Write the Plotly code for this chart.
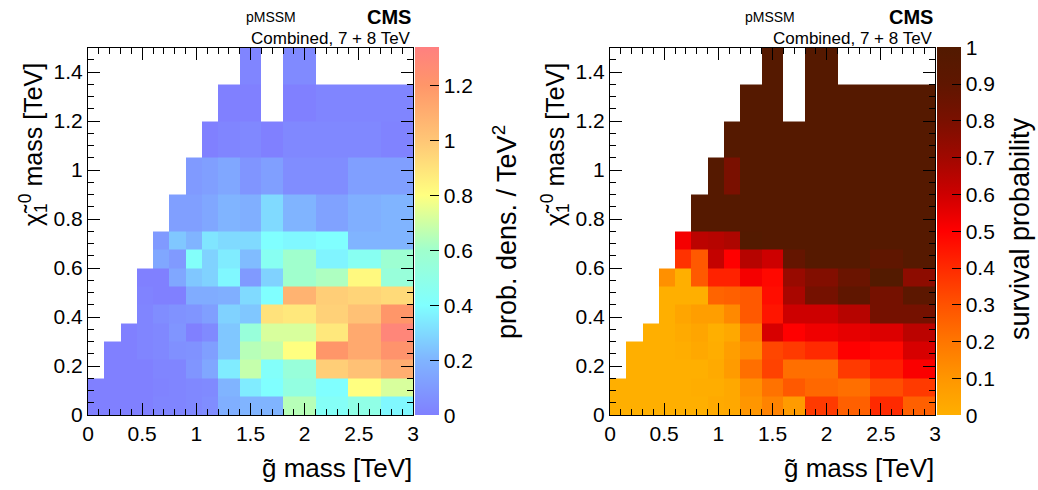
import plotly.graph_objects as go

W, H = 1038, 490

# ---------------- data ----------------
# bin edges (TeV)
gluino_edges = [0, 0.15, 0.3, 0.45, 0.6, 0.75, 0.9, 1.05, 1.2, 1.4, 1.6, 1.8, 2.1, 2.4, 2.7, 3.0]
lsp_edges = [0, 0.075, 0.15, 0.225, 0.3, 0.375, 0.45, 0.525, 0.6, 0.675, 0.75, 0.9, 1.05, 1.2, 1.35, 1.5]

N = None
# probability density / TeV^2 (rows: LSP bins bottom->top, cols: gluino bins)
prob_density = [
    [0.0, 0.0, 0.0, 0.0, 0.02, 0.02, 0.03, 0.05, 0.18, 0.2, 0.2, 0.65, 0.43, 0.5, 0.38],
    [0.0, 0.0, 0.0, 0.0, 0.01, 0.02, 0.03, 0.04, 0.2, 0.35, 0.4, 0.52, 0.4, 0.8, 0.72],
    [N, 0.0, 0.0, 0.0, 0.02, 0.02, 0.08, 0.15, 0.35, 0.68, 0.42, 0.55, 0.97, 1.02, 1.1],
    [N, 0.0, 0.0, 0.02, 0.03, 0.06, 0.07, 0.12, 0.25, 0.65, 0.68, 0.8, 1.2, 1.12, 1.22],
    [N, N, 0.0, 0.02, 0.03, 0.08, 0.0, 0.04, 0.25, 0.55, 0.72, 0.72, 0.88, 1.12, 1.3],
    [N, N, N, 0.02, 0.05, 0.07, 0.08, 0.12, 0.28, 0.25, 0.9, 0.88, 0.96, 1.02, 1.2],
    [N, N, N, 0.01, 0.0, 0.0, 0.17, 0.17, 0.18, 0.3, 0.4, 1.08, 0.97, 0.95, 0.93],
    [N, N, N, 0.0, 0.0, 0.15, 0.25, 0.28, 0.38, 0.1, 0.28, 0.6, 0.63, 0.82, 0.55],
    [N, N, N, N, 0.15, 0.1, 0.42, 0.28, 0.35, 0.22, 0.45, 0.6, 0.37, 0.45, 0.58],
    [N, N, N, N, 0.1, 0.25, 0.2, 0.33, 0.3, 0.3, 0.4, 0.38, 0.4, 0.2, 0.2],
    [N, N, N, N, N, 0.12, 0.12, 0.15, 0.2, 0.18, 0.3, 0.2, 0.13, 0.18, 0.2],
    [N, N, N, N, N, N, 0.1, 0.12, 0.15, 0.08, 0.12, 0.05, 0.05, 0.12, 0.12],
    [N, N, N, N, N, N, N, 0.0, 0.02, 0.03, 0.0, 0.03, 0.03, 0.03, 0.01],
    [N, N, N, N, N, N, N, N, 0.0, 0.0, N, 0.0, 0.02, 0.02, 0.02],
    [N, N, N, N, N, N, N, N, N, 0.02, N, 0.04, N, N, N],
]

survival_prob = [
    [0, 0, 0, 0, 0, 0, 0.02, 0.03, 0.1, 0.16, 0.08, 0.36, 0.26, 0.4, 0.26],
    [0, 0, 0, 0, 0, 0.01, 0.01, 0.03, 0.12, 0.21, 0.28, 0.24, 0.22, 0.31, 0.36],
    [N, 0, 0, 0, 0, 0, 0.02, 0.08, 0.22, 0.34, 0.22, 0.22, 0.36, 0.43, 0.51],
    [N, 0, 0, 0, 0.01, 0.03, 0.01, 0.07, 0.13, 0.33, 0.36, 0.4, 0.5, 0.48, 0.58],
    [N, N, 0, 0, 0.02, 0.04, 0.0, 0.03, 0.18, 0.58, 0.5, 0.53, 0.55, 0.57, 0.64],
    [N, N, N, 0, 0.04, 0.07, 0.07, 0.14, 0.28, 0.45, 0.6, 0.6, 0.65, 0.82, 0.82],
    [N, N, N, 0, 0, 0, 0.25, 0.26, 0.28, 0.47, 0.68, 0.82, 0.9, 0.82, 0.92],
    [N, N, N, 0.12, 0, 0.28, 0.42, 0.42, 0.52, 0.48, 0.72, 0.78, 0.86, 0.99, 0.75],
    [N, N, N, N, 0.38, 0.28, 0.62, 0.5, 0.65, 0.6, 0.88, 0.97, 0.97, 0.9, 0.97],
    [N, N, N, N, 0.52, 0.64, 0.65, 0.67, 0.99, 0.98, 0.98, 0.98, 0.98, 0.98, 0.98],
    [N, N, N, N, N, 0.98, 0.98, 0.98, 0.98, 0.98, 0.98, 0.98, 0.98, 0.98, 0.98],
    [N, N, N, N, N, N, 0.98, 0.8, 0.98, 0.98, 0.98, 0.98, 0.98, 0.98, 0.98],
    [N, N, N, N, N, N, N, 0.98, 0.98, 0.98, 0.98, 0.98, 0.98, 0.98, 0.98],
    [N, N, N, N, N, N, N, N, 0.98, 0.98, N, 0.98, 0.98, 0.98, 0.98],
    [N, N, N, N, N, N, N, N, N, 0.98, N, 0.98, N, N, N],
]

x_ticks = [0, 0.5, 1, 1.5, 2, 2.5, 3]
x_ticktext = ["0", "0.5", "1", "1.5", "2", "2.5", "3"]
y_ticks = [0, 0.2, 0.4, 0.6, 0.8, 1.0, 1.2, 1.4]
y_ticktext = ["0", "0.2", "0.4", "0.6", "0.8", "1", "1.2", "1.4"]
cb1_ticks = [0, 0.2, 0.4, 0.6, 0.8, 1.0, 1.2]
cb1_text = ["0", "0.2", "0.4", "0.6", "0.8", "1", "1.2"]
cb2_ticks = [0, 0.1, 0.2, 0.3, 0.4, 0.5, 0.6, 0.7, 0.8, 0.9, 1.0]
cb2_text = ["0", "0.1", "0.2", "0.3", "0.4", "0.5", "0.6", "0.7", "0.8", "0.9", "1"]

DENS_MAX = 1.34

# ---------------- styles ----------------
cs_left = [
    [0.0, "rgb(128,128,255)"],
    [0.149, "rgb(128,180,255)"],
    [0.298, "rgb(128,255,255)"],
    [0.448, "rgb(160,255,205)"],
    [0.52, "rgb(205,255,165)"],
    [0.597, "rgb(255,255,128)"],
    [0.746, "rgb(255,198,118)"],
    [0.896, "rgb(255,150,105)"],
    [1.0, "rgb(255,128,128)"],
]
cs_right = [
    [0.0, "rgb(255,175,0)"],
    [0.1, "rgb(255,150,0)"],
    [0.2, "rgb(255,118,0)"],
    [0.3, "rgb(255,82,0)"],
    [0.4, "rgb(255,42,0)"],
    [0.5, "rgb(255,0,0)"],
    [0.6, "rgb(205,0,0)"],
    [0.7, "rgb(160,8,0)"],
    [0.8, "rgb(122,16,0)"],
    [0.9, "rgb(95,22,0)"],
    [1.0, "rgb(82,26,0)"],
]

FONT = "Liberation Sans, Arial, Helvetica, sans-serif"
TICKSZ = 21


def fx(p):
    return p / W


def fy(p):
    return 1 - p / H


y_dom = [fy(415), fy(47.5)]
cb_len = (415 - 47.5) / H
cb_y = fy((415 + 47.5) / 2)

fig = go.Figure()
fig.add_trace(go.Heatmap(
    x=gluino_edges, y=lsp_edges, z=prob_density, zmin=0, zmax=DENS_MAX,
    colorscale=cs_left, xaxis="x", yaxis="y", hoverongaps=False,
    colorbar=dict(x=fx(415), xanchor="left", xpad=0, ypad=0, thickness=24,
                  len=cb_len, lenmode="fraction", y=cb_y, yanchor="middle",
                  outlinewidth=0, tickvals=cb1_ticks, ticktext=cb1_text,
                  ticks="inside", ticklen=9, tickcolor="black", tickwidth=1,
                  tickfont=dict(size=TICKSZ, color="black", family=FONT)),
))
fig.add_trace(go.Heatmap(
    x=gluino_edges, y=lsp_edges, z=survival_prob, zmin=0, zmax=1,
    colorscale=cs_right, xaxis="x2", yaxis="y2", hoverongaps=False,
    colorbar=dict(x=fx(937), xanchor="left", xpad=0, ypad=0, thickness=24,
                  len=cb_len, lenmode="fraction", y=cb_y, yanchor="middle",
                  outlinewidth=0, tickvals=cb2_ticks, ticktext=cb2_text,
                  ticks="inside", ticklen=9, tickcolor="black", tickwidth=1,
                  tickfont=dict(size=TICKSZ, color="black", family=FONT)),
))

axis_common = dict(
    showgrid=False, zeroline=False, showline=True, linecolor="black", linewidth=1,
    mirror="allticks", ticks="inside", ticklen=12, tickcolor="black", tickwidth=1,
    tickfont=dict(size=TICKSZ, color="black", family=FONT),
)
xaxis_style = dict(axis_common, range=[0, 3], tickvals=x_ticks, ticktext=x_ticktext,
                   minor=dict(ticks="inside", dtick=0.1, ticklen=6, tickcolor="black"))
yaxis_style = dict(axis_common, range=[0, 1.5], tickvals=y_ticks, ticktext=y_ticktext,
                   minor=dict(ticks="inside", dtick=0.05, ticklen=6, tickcolor="black"))

fig.update_layout(
    width=W, height=H, margin=dict(l=0, r=0, t=0, b=0, autoexpand=False),
    paper_bgcolor="white", plot_bgcolor="white",
    font=dict(family=FONT, color="black"),
    xaxis=dict(xaxis_style, domain=[fx(88), fx(413)], anchor="y"),
    yaxis=dict(yaxis_style, domain=y_dom, anchor="x"),
    xaxis2=dict(xaxis_style, domain=[fx(610), fx(935)], anchor="y2"),
    yaxis2=dict(yaxis_style, domain=y_dom, anchor="x2"),
)

ann = []
for off, pm_x in ((0, 271), (522, 770)):
    ann += [
        dict(text="pMSSM", x=fx(pm_x), y=fy(17), xref="paper", yref="paper",
             showarrow=False, xanchor="center", yanchor="middle", font=dict(size=14)),
        dict(text="<b>CMS</b>", x=fx(413 + off), y=fy(17), xref="paper", yref="paper",
             showarrow=False, xanchor="right", yanchor="middle", font=dict(size=20)),
        dict(text="Combined, 7 + 8 TeV", x=fx(413 + off), y=fy(38), xref="paper", yref="paper",
             showarrow=False, xanchor="right", yanchor="middle", font=dict(size=17)),
        dict(text="g\u0303 mass [TeV]", x=fx(414 + off), y=fy(468), xref="paper", yref="paper",
             showarrow=False, xanchor="right", yanchor="middle", font=dict(size=26)),
        dict(text="\u03c7\u0303<sub>1</sub><sup>0</sup> mass [TeV]", x=fx(33 + off), y=fy(145),
             xref="paper", yref="paper", showarrow=False, textangle=-90,
             xanchor="center", yanchor="middle", font=dict(size=25)),
    ]
ann += [
    dict(text="prob. dens. / TeV<sup>2</sup>", x=fx(505), y=fy(232), xref="paper", yref="paper",
         showarrow=False, textangle=-90, xanchor="center", yanchor="middle", font=dict(size=27)),
    dict(text="survival probability", x=fx(1020), y=fy(229), xref="paper", yref="paper",
         showarrow=False, textangle=-90, xanchor="center", yanchor="middle", font=dict(size=27)),
]
fig.update_layout(annotations=ann)

fig.write_html(
    "out.html",
    config={"displayModeBar": False},
    post_script="document.body.style.margin='0';document.body.style.overflow='hidden';",
)
